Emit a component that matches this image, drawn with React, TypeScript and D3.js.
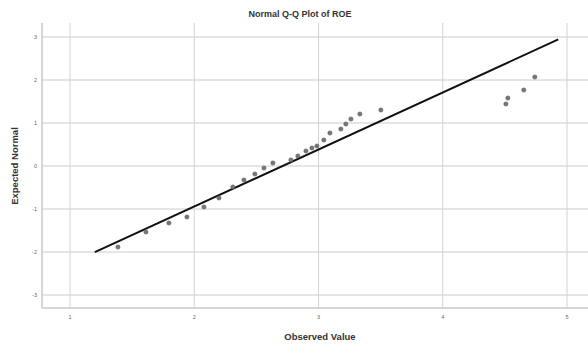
import React from "react";
import * as d3 from "d3";

const observed = [1.386, 1.611, 1.796, 1.941, 2.078, 2.199, 2.311, 2.4, 2.488, 2.561, 2.633, 2.778, 2.834, 2.899, 2.947, 2.987, 3.043, 3.092, 3.18, 3.22, 3.261, 3.333, 3.502, 4.508, 4.524, 4.652, 4.741];
const expected = [-1.884, -1.535, -1.326, -1.186, -0.953, -0.744, -0.488, -0.326, -0.186, -0.047, 0.07, 0.14, 0.233, 0.349, 0.419, 0.465, 0.605, 0.767, 0.86, 0.977, 1.093, 1.209, 1.302, 1.442, 1.581, 1.767, 2.07];
const xTicks = [1, 2, 3, 4, 5];
const yTicks = [-3, -2, -1, 0, 1, 2, 3];
const lineRange = [1.2, 4.93];
const mean = 2.71;
const sd = 0.754;

const W = 588, H = 347;
const left = 42, right = 588, top = 23, bottom = 308;

export default function App() {
  const x = d3.scaleLinear().domain([1, 5]).range([70, 567]);
  const y = d3.scaleLinear().domain([-3, 3]).range([295, 37]);
  const pts = observed.map((o, i) => [o, expected[i]] as [number, number]);
  const ref = d3.line<number>().x((d) => x(d)).y((d) => y((d - mean) / sd));
  const font = "Liberation Sans, Arial, sans-serif";
  return (
    <svg width={W} height={H} style={{ position: "absolute", left: 0, top: 0, background: "#fff" }} fontFamily={font}>
      <rect width={W} height={H} fill="#fff" />
      {yTicks.map((t) => (
        <line key={"gy" + t} x1={left} x2={right} y1={y(t)} y2={y(t)} stroke="#dcdcdc" strokeWidth={1.6} />
      ))}
      {xTicks.map((t) => (
        <line key={"gx" + t} x1={x(t)} x2={x(t)} y1={top} y2={bottom} stroke="#d2d2d2" strokeWidth={1} />
      ))}
      <line x1={left} x2={left} y1={top} y2={bottom} stroke="#c8c8c8" strokeWidth={1.5} />
      <line x1={left} x2={right} y1={bottom} y2={bottom} stroke="#c8c8c8" strokeWidth={1.5} />
      {yTicks.map((t) => (
        <text key={"ty" + t} x={37} y={y(t) + 2} fontSize={5.5} textAnchor="end" fill="#666">{t}</text>
      ))}
      {xTicks.map((t) => (
        <text key={"tx" + t} x={x(t)} y={319} fontSize={5.5} textAnchor="middle" fill="#666">{t}</text>
      ))}
      <path d={ref(lineRange) || ""} stroke="#111" strokeWidth={2} fill="none" />
      {pts.map((p, i) => (
        <circle key={i} cx={x(p[0])} cy={y(p[1])} r={2.1} fill="#777" stroke="#555" strokeWidth={0.6} />
      ))}
      <text x={300} y={17} fontSize={9} fontWeight="bold" textAnchor="middle" fill="#333">Normal Q-Q Plot of ROE</text>
      <text x={320} y={340} fontSize={9.5} fontWeight="bold" textAnchor="middle" fill="#333">Observed Value</text>
      <text transform="translate(18,166) rotate(-90)" fontSize={9.5} fontWeight="bold" textAnchor="middle" fill="#333">Expected Normal</text>
    </svg>
  );
}
